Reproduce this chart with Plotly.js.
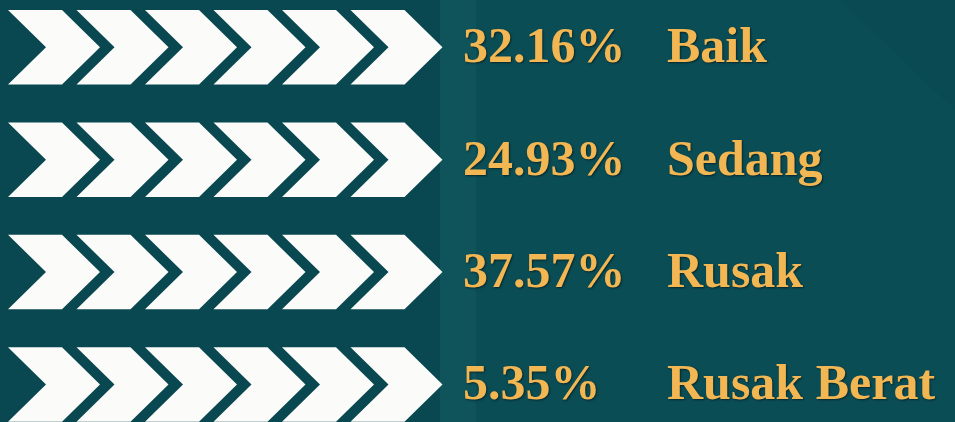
<!DOCTYPE html>
<html>
<head>
<meta charset="utf-8">
<script src="https://cdn.plot.ly/plotly-3.0.1.min.js"></script>
<style>html,body{margin:0;padding:0;background:#0b4d55;}#chart{width:955px;height:422px;}</style>
</head>
<body>
<div id="chart"></div>
<script>
// ---- data ----
const categories = ["Baik", "Sedang", "Rusak", "Rusak Berat"];
const percents = [32.16, 24.93, 37.57, 5.35];
const chevronsPerRow = 6;

// ---- layout geometry (axis units = pixels of the 955x422 canvas) ----
const rowTop0 = 10, rowPitch = 112.4, rowH = 74.5;
const chevX0 = 8, chevPitch = 68.5, chevW = 54, chevD = 38;
const pctX = 463, catX = 667, textDy = 2.5;

const rowMid = categories.map((c, i) => rowTop0 + i * rowPitch + rowH / 2 + textDy);

const shapes = [];
// subtle background light bands
shapes.push({type: 'rect', xref: 'x', yref: 'y', x0: 0, x1: 440, y0: 0, y1: 422,
  fillcolor: 'rgba(0,20,25,0.07)', line: {width: 0}, layer: 'below'});
shapes.push({type: 'rect', xref: 'x', yref: 'y', x0: 440, x1: 476, y0: 0, y1: 422,
  fillcolor: 'rgba(60,140,150,0.09)', line: {width: 0}, layer: 'below'});
shapes.push({type: 'path', xref: 'x', yref: 'y', path: 'M 840 0 L 955 0 L 955 110 Z',
  fillcolor: 'rgba(0,25,30,0.05)', line: {width: 0}, layer: 'below'});

categories.forEach((c, i) => {
  const top = rowTop0 + i * rowPitch, bot = top + rowH, mid = (top + bot) / 2;
  for (let j = 0; j < chevronsPerRow; j++) {
    const x0 = chevX0 + j * chevPitch;
    const path = `M ${x0} ${top} L ${x0 + chevW} ${top} L ${x0 + chevW + chevD} ${mid} L ${x0 + chevW} ${bot} L ${x0} ${bot} L ${x0 + chevD} ${mid} Z`;
    shapes.push({type: 'path', xref: 'x', yref: 'y', path: path,
      fillcolor: '#fbfbf9', line: {width: 0}, layer: 'above'});
  }
});

const gold = '#f2b653';
const textFont = {family: '"Liberation Serif", "Times New Roman", serif', size: 50, color: gold, weight: 'bold',
  shadow: '1px 1px 2px rgba(0,0,0,0.5)'};

const traces = [
  {type: 'scatter', mode: 'text', x: categories.map(() => pctX), y: rowMid,
   text: percents.map(p => p.toFixed(2) + '%'), textposition: 'middle right',
   textfont: textFont, hoverinfo: 'skip', showlegend: false},
  {type: 'scatter', mode: 'text', x: categories.map(() => catX), y: rowMid,
   text: categories, textposition: 'middle right',
   textfont: textFont, hoverinfo: 'skip', showlegend: false}
];

const layout = {
  width: 955, height: 422,
  margin: {l: 0, r: 0, t: 0, b: 0, pad: 0},
  paper_bgcolor: '#0b4d55', plot_bgcolor: 'rgba(0,0,0,0)',
  xaxis: {range: [0, 955], visible: false, fixedrange: true},
  yaxis: {range: [422, 0], visible: false, fixedrange: true},
  shapes: shapes,
  showlegend: false
};

Plotly.newPlot('chart', traces, layout, {displayModeBar: false, staticPlot: true});
</script>
</body>
</html>
